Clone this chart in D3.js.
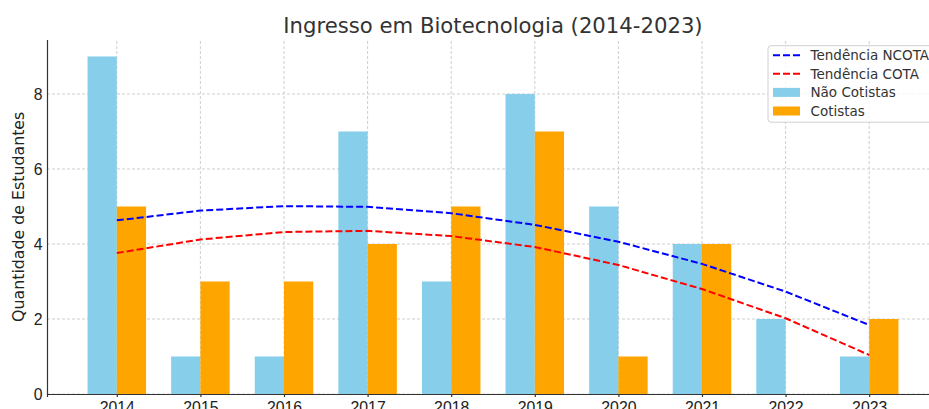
<!DOCTYPE html>
<html>
<head>
<meta charset="utf-8">
<script src="https://cdn.jsdelivr.net/npm/d3@7"></script>
<style>
  body { margin: 0; background: #fff; }
  svg { display: block; font-family: "DejaVu Sans", sans-serif; }
  .xaxis text, .yaxis text { font-size: 15.8px; fill: #222; }
  .xaxis path, .yaxis path, .xaxis line, .yaxis line { stroke: #333; stroke-width: 1.2; }
  .grid line { stroke: #c8c8c8; stroke-width: 0.9; stroke-dasharray: 3,2; }
  .legend { font-size: 13.5px; fill: #333; }
</style>
</head>
<body>
<div id="chart"></div>
<script>
// data
var anos = [2014, 2015, 2016, 2017, 2018, 2019, 2020, 2021, 2022, 2023];
var nao_cotistas = [9, 1, 1, 7, 3, 8, 5, 4, 2, 1];
var cotistas = [5, 3, 3, 4, 5, 7, 1, 4, 0, 2];
var tend_ncota = [4.63, 4.89, 5.01, 4.99, 4.82, 4.51, 4.06, 3.47, 2.73, 1.84];
var tend_cota = [3.76, 4.12, 4.32, 4.35, 4.21, 3.92, 3.44, 2.80, 2.02, 1.04];
var y_ticks = [0, 2, 4, 6, 8];

var w = 929;
var h = 409;
var marges = {left: 47, right: 939, top: 39.6, bottom: 394};
var bar_w = 0.35;

var svg = d3.select("#chart")
  .append("svg")
    .attr("width", w)
    .attr("height", h);

var x = d3.scaleLinear()
  .domain([2013.165, 2023.835])
  .range([marges.left, marges.right]);

var y = d3.scaleLinear()
  .domain([0, 9.45])
  .range([marges.bottom, marges.top]);

// <-- GRID -------------
var grid = svg.append("g").attr("class", "grid");
grid.selectAll(".gx")
  .data(anos)
  .enter().append("line")
    .attr("x1", function(d) { return x(d); })
    .attr("x2", function(d) { return x(d); })
    .attr("y1", y(0))
    .attr("y2", marges.top);
grid.selectAll(".gy")
  .data(y_ticks)
  .enter().append("line")
    .attr("x1", marges.left)
    .attr("x2", marges.right)
    .attr("y1", function(d) { return y(d); })
    .attr("y2", function(d) { return y(d); });
// -- GRID ------------->

// Bars
svg.append("g")
  .selectAll("rect")
  .data(anos)
  .enter().append("rect")
    .attr("x", function(d) { return x(d - bar_w); })
    .attr("y", function(d, i) { return y(nao_cotistas[i]); })
    .attr("width", function(d) { return x(d) - x(d - bar_w); })
    .attr("height", function(d, i) { return y(0) - y(nao_cotistas[i]); })
    .attr("fill", "#87ceeb");

svg.append("g")
  .selectAll("rect")
  .data(anos)
  .enter().append("rect")
    .attr("x", function(d) { return x(d); })
    .attr("y", function(d, i) { return y(cotistas[i]); })
    .attr("width", function(d) { return x(d + bar_w) - x(d); })
    .attr("height", function(d, i) { return y(0) - y(cotistas[i]); })
    .attr("fill", "#ffa500");

// Trend lines
var linia = d3.line()
  .x(function(d, i) { return x(anos[i]); })
  .y(function(d) { return y(d); });

svg.append("path")
  .datum(tend_ncota)
  .attr("d", linia)
  .attr("fill", "none")
  .attr("stroke", "#0000ff")
  .attr("stroke-width", 2)
  .attr("stroke-dasharray", "7,3");

svg.append("path")
  .datum(tend_cota)
  .attr("d", linia)
  .attr("fill", "none")
  .attr("stroke", "#ff0000")
  .attr("stroke-width", 2)
  .attr("stroke-dasharray", "7,3");

// <-- AXES -------------
svg.append("g")
  .attr("class", "xaxis")
  .attr("transform", "translate(0," + marges.bottom + ")")
  .call(d3.axisBottom(x).tickValues(anos).tickFormat(d3.format("d")).tickSizeOuter(0).tickSize(3).tickPadding(5));

svg.append("g")
  .attr("class", "yaxis")
  .attr("transform", "translate(" + marges.left + ",0)")
  .call(d3.axisLeft(y).tickValues(y_ticks).tickSizeOuter(0).tickSize(0).tickPadding(4.5));
// -- AXES ------------->

// Labels
svg.append("text")
  .attr("x", (marges.left + marges.right) / 2)
  .attr("y", 33)
  .attr("text-anchor", "middle")
  .style("font-size", "21.2px")
  .style("fill", "#333")
  .text("Ingresso em Biotecnologia (2014-2023)");

svg.append("text")
  .attr("transform", "translate(24," + (marges.top + marges.bottom) / 2 + ") rotate(-90)")
  .attr("text-anchor", "middle")
  .style("font-size", "15.8px")
  .style("fill", "#222")
  .text("Quantidade de Estudantes");

// <-- LEGEND -------------
var leg = svg.append("g").attr("transform", "translate(768,45.7)");
leg.append("rect")
  .attr("width", 170)
  .attr("height", 76.5)
  .attr("rx", 3)
  .attr("fill", "#fff")
  .attr("fill-opacity", 0.8)
  .attr("stroke", "#d0d0d0");

var leg_items = [
  {nom: "Tendência NCOTA", tipus: "line", color: "#0000ff"},
  {nom: "Tendência COTA", tipus: "line", color: "#ff0000"},
  {nom: "Não Cotistas", tipus: "rect", color: "#87ceeb"},
  {nom: "Cotistas", tipus: "rect", color: "#ffa500"}
];
leg_items.forEach(function(d, i) {
  var cy = 9.5 + i * 18.6;
  if (d.tipus == "line") {
    leg.append("line")
      .attr("x1", 5).attr("x2", 32)
      .attr("y1", cy).attr("y2", cy)
      .attr("stroke", d.color)
      .attr("stroke-width", 2)
      .attr("stroke-dasharray", "7,3");
  } else {
    leg.append("rect")
      .attr("x", 5).attr("y", cy - 4.5)
      .attr("width", 27).attr("height", 9)
      .attr("fill", d.color);
  }
  leg.append("text")
    .attr("x", 42.5)
    .attr("y", cy + 5)
    .attr("class", "legend")
    .text(d.nom);
});
// -- LEGEND ------------->
</script>
</body>
</html>
